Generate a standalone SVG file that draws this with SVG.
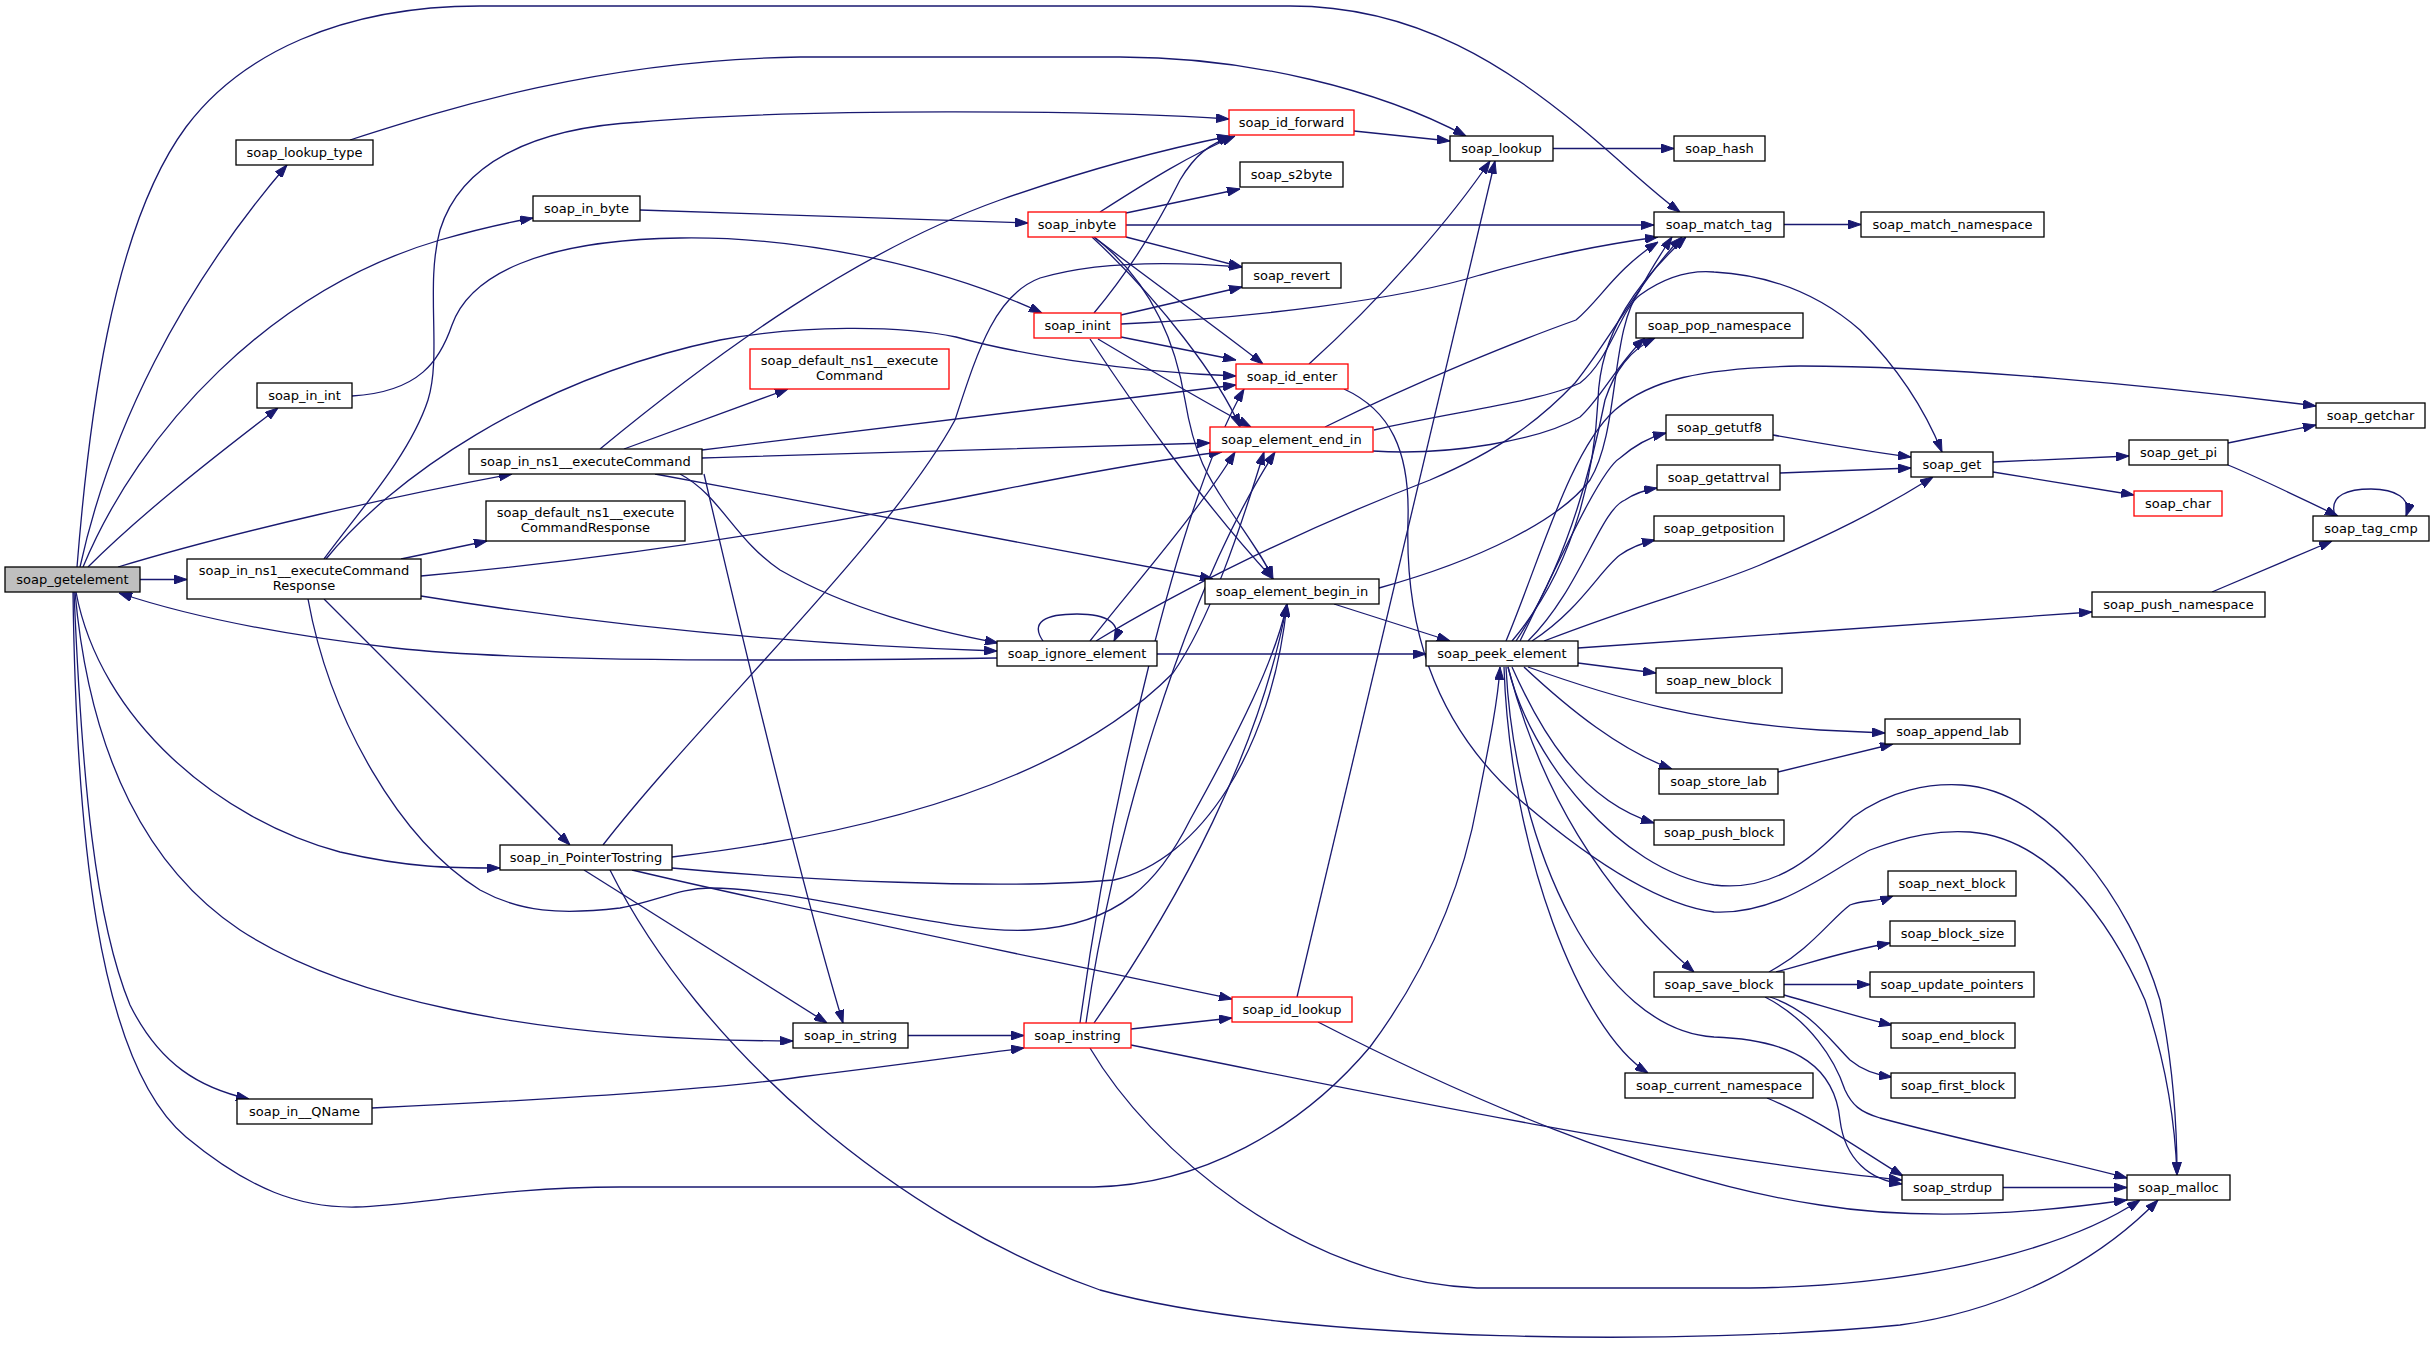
<svg xmlns="http://www.w3.org/2000/svg" width="2435" height="1345" viewBox="0 0 2435 1345">
<defs>
<marker id="a" markerWidth="13" markerHeight="9" refX="13" refY="4.5" orient="auto" markerUnits="userSpaceOnUse"><path d="M0,0 L13,4.5 L0,9 z" fill="#191970" stroke="#191970" stroke-width="1"/></marker>
</defs>
<style>
.e path{fill:none;stroke:#191970;stroke-width:1.3;marker-end:url(#a)}
.n rect{fill:#ffffff;stroke:#000000;stroke-width:1.3}
.r rect{fill:#ffffff;stroke:#ff0000;stroke-width:1.3}
.g rect{fill:#bfbfbf;stroke:#000000;stroke-width:1.3}
text{font-family:"DejaVu Sans","Liberation Sans",sans-serif;font-size:13px;text-anchor:middle;fill:#000000}
</style>
<rect x="0" y="0" width="2435" height="1345" fill="#ffffff"/>
<g id="edges" class="e">
<path d="M77,567 C88,430 110,230 186,127 C240,55 340,6 480,6 L1290,6 C1420,6 1510,70 1580,127 C1620,160 1650,190 1680,212"/>
<path d="M80,567 C110,430 180,290 287,165"/>
<path d="M83,567 C140,430 270,290 440,240 C475,230 505,223 533,218"/>
<path d="M88,567 C140,515 210,460 278,408"/>
<path d="M118,567 C240,530 400,495 512,474"/>
<path d="M140,579.5 L187,579.5"/>
<path d="M997,658 C800,661 520,662 395,648 C300,637 200,620 119,593"/>
<path d="M76,592 C100,720 220,820 340,852 C410,868 450,868 500,868"/>
<path d="M75,592 C90,760 150,870 240,930 C340,995 520,1040 793,1041"/>
<path d="M74,592 C82,780 95,920 130,1005 C160,1065 200,1088 249,1099"/>
<path d="M73,592 C76,820 95,1060 186,1137 C250,1190 300,1208 356,1207 C420,1205 500,1187 620,1187 L1094,1187 C1200,1185 1300,1130 1370,1047 C1420,980 1460,900 1478,800 C1490,740 1498,700 1500,667"/>
<path d="M350,140 C450,108 600,60 800,57 L1120,57 C1250,57 1380,90 1466,136"/>
<path d="M640,210 L1028,223"/>
<path d="M352,396 C420,392 440,360 452,325 C470,275 540,240 680,238 C810,236 950,270 1042,313"/>
<path d="M600,449 C720,350 860,250 1000,200 C1080,172 1160,150 1230,136"/>
<path d="M624,449 L788,389"/>
<path d="M702,450 C900,425 1100,400 1236,385"/>
<path d="M702,458 C900,452 1100,446 1210,443"/>
<path d="M655,474 C850,510 1050,548 1213,579"/>
<path d="M680,474 C720,495 735,540 780,570 C850,610 930,630 998,643"/>
<path d="M704,474 C745,650 800,880 843,1023"/>
<path d="M401,559 L487,541"/>
<path d="M324,559 C360,510 410,455 428,400 C442,355 425,285 440,230 C460,165 530,128 640,122 C800,108 1100,110 1229,119"/>
<path d="M326,559 C390,480 530,380 720,340 C800,325 900,325 956,337 C1010,352 1120,372 1236,376"/>
<path d="M421,576 C600,560 800,530 1000,490 C1100,470 1170,458 1222,452"/>
<path d="M421,596 C600,625 800,645 997,651"/>
<path d="M324,599 L570,845"/>
<path d="M308,599 C330,720 400,840 480,890 C520,912 560,915 620,908 C660,900 680,888 710,888 C800,888 950,935 1030,930 C1120,925 1160,880 1190,820 C1240,730 1275,660 1287,604"/>
<path d="M603,845 C700,720 890,540 955,420 C978,350 995,295 1040,278 C1100,260 1180,262 1242,267"/>
<path d="M672,857 C900,830 1074,773 1173,673 C1210,620 1240,530 1264,452"/>
<path d="M672,868 C800,880 1000,890 1114,880 C1200,860 1272,750 1287,604"/>
<path d="M584,870 L827,1023"/>
<path d="M632,870 C800,910 1050,960 1232,999"/>
<path d="M610,870 C700,1050 900,1220 1100,1290 C1300,1345 1700,1345 1900,1325 C2010,1310 2100,1260 2158,1200"/>
<path d="M908,1035.5 L1024,1035.5"/>
<path d="M372,1108 C500,1102 700,1092 800,1077 C900,1065 970,1055 1024,1048"/>
<path d="M1131,1029 L1232,1018"/>
<path d="M1131,1045 C1400,1100 1700,1160 1902,1180"/>
<path d="M1090,1048 C1150,1150 1300,1280 1477,1288 L1750,1288 C1950,1285 2080,1240 2140,1200"/>
<path d="M1080,1023 C1110,800 1180,500 1244,389"/>
<path d="M1086,1023 C1110,850 1180,600 1275,452"/>
<path d="M1094,1023 C1180,900 1260,750 1287,604"/>
<path d="M1100,212 C1150,180 1190,155 1235,136"/>
<path d="M1126,213 L1240,189"/>
<path d="M1126,225 L1654,225"/>
<path d="M1126,237 L1242,267"/>
<path d="M1094,237 C1150,280 1220,330 1263,364"/>
<path d="M1092,237 C1160,300 1220,380 1240,427"/>
<path d="M1094,237 C1150,280 1175,340 1185,400 C1195,460 1210,480 1230,510 C1250,540 1265,560 1273,579"/>
<path d="M1094,313 C1130,270 1160,220 1180,180 C1195,155 1210,143 1232,137"/>
<path d="M1121,315 L1242,287"/>
<path d="M1121,324 C1250,318 1400,300 1480,275 C1550,255 1600,245 1658,237"/>
<path d="M1121,337 L1236,360"/>
<path d="M1098,339 C1150,370 1210,405 1251,427"/>
<path d="M1090,339 C1130,400 1200,500 1273,579"/>
<path d="M1043,641 C1030,622 1045,614 1077,614 C1108,614 1122,624 1114,641"/>
<path d="M1157,654 L1426,654"/>
<path d="M1090,641 C1130,590 1200,510 1235,452"/>
<path d="M1096,641 C1180,590 1300,530 1430,480 C1500,450 1540,420 1575,383 C1610,340 1640,280 1682,237"/>
<path d="M1354,131 L1450,141"/>
<path d="M1309,364 C1380,300 1450,220 1490,161"/>
<path d="M1344,389 C1390,410 1410,450 1408,520 C1405,620 1430,720 1520,800 C1590,860 1660,905 1714,912 C1780,915 1830,870 1870,850 C1910,835 1940,830 1970,832 C2050,838 2110,920 2145,1000 C2165,1060 2175,1120 2177,1175"/>
<path d="M1297,997 L1495,161"/>
<path d="M1318,1022 C1450,1090 1650,1180 1820,1205 C1900,1218 2000,1218 2127,1200"/>
<path d="M1325,427 C1420,380 1520,340 1576,320 C1600,300 1615,270 1658,242"/>
<path d="M1374,430 C1450,412 1540,402 1580,383 C1610,360 1620,310 1640,295 C1665,277 1690,270 1714,272 C1770,275 1820,295 1860,330 C1900,370 1925,410 1942,452"/>
<path d="M1373,451 C1450,456 1540,440 1580,417 C1600,400 1620,360 1645,338"/>
<path d="M1334,604 L1450,641"/>
<path d="M1379,588 C1480,560 1560,520 1590,480 C1620,430 1610,330 1640,290 C1650,270 1660,255 1672,237"/>
<path d="M1512,641 C1580,560 1595,460 1598,400 C1600,330 1640,280 1686,237"/>
<path d="M1516,641 C1570,560 1595,450 1605,400 C1615,370 1630,350 1655,338"/>
<path d="M1520,641 C1560,560 1600,470 1620,458 C1635,445 1650,437 1666,433"/>
<path d="M1528,641 C1580,590 1600,510 1625,500 C1635,493 1645,490 1657,488"/>
<path d="M1532,641 C1580,610 1600,570 1620,555 C1630,548 1642,543 1655,540"/>
<path d="M1544,641 C1650,600 1700,590 1760,565 C1830,535 1880,510 1933,477"/>
<path d="M1506,641 C1540,560 1570,450 1615,410 C1650,380 1700,368 1800,366 C1950,366 2150,385 2316,406"/>
<path d="M1578,648 L2092,612"/>
<path d="M1578,663 L1656,673"/>
<path d="M1528,667 C1620,700 1700,722 1820,730 C1845,731 1865,732 1885,733"/>
<path d="M1524,667 C1570,710 1620,750 1672,769"/>
<path d="M1512,667 C1540,730 1580,800 1654,823"/>
<path d="M1508,667 C1540,790 1600,890 1694,972"/>
<path d="M1504,667 C1510,850 1580,1030 1648,1073"/>
<path d="M1506,667 C1515,850 1600,1030 1714,1037 C1800,1040 1835,1070 1840,1120 C1845,1160 1870,1180 1902,1184"/>
<path d="M1508,667 C1530,760 1620,870 1714,885 C1780,893 1820,850 1853,817 C1890,790 1930,783 1962,785 C2050,790 2130,900 2160,1000 C2172,1060 2177,1120 2177,1175"/>
<path d="M1553,148.5 L1674,148.5"/>
<path d="M1784,224.5 L1861,224.5"/>
<path d="M1773,435 C1830,445 1870,452 1911,457"/>
<path d="M1780,473 L1911,468"/>
<path d="M1993,462 L2129,456"/>
<path d="M1993,472 L2134,495"/>
<path d="M2228,443 L2316,425"/>
<path d="M2228,465 C2260,478 2300,498 2338,516"/>
<path d="M2335,516 C2328,494 2350,489 2371,489 C2395,489 2412,498 2406,516"/>
<path d="M2212,592 L2332,541"/>
<path d="M1778,772 L1893,744"/>
<path d="M1769,972 C1810,950 1830,920 1850,905 C1862,900 1878,902 1893,896"/>
<path d="M1776,972 C1820,960 1850,950 1890,943"/>
<path d="M1784,984.5 L1870,984.5"/>
<path d="M1784,995 C1820,1005 1860,1018 1892,1025"/>
<path d="M1770,997 C1810,1010 1830,1040 1850,1060 C1862,1070 1876,1075 1892,1077"/>
<path d="M1765,997 C1810,1020 1835,1060 1845,1090 C1852,1105 1860,1112 1880,1118 C1960,1140 2060,1160 2127,1178"/>
<path d="M1767,1098 C1820,1120 1860,1150 1903,1176"/>
<path d="M2003,1187.5 L2127,1187.5"/>
</g>
<g id="soap_getelement" class="g"><rect x="5" y="567" width="135" height="25"/><text x="72.5" y="584">soap_getelement</text></g>
<g id="soap_lookup_type" class="n"><rect x="236" y="140" width="137" height="25"/><text x="304.5" y="157">soap_lookup_type</text></g>
<g id="soap_in_byte" class="n"><rect x="533" y="196" width="107" height="25"/><text x="586.5" y="213">soap_in_byte</text></g>
<g id="soap_in_int" class="n"><rect x="257" y="383" width="95" height="25"/><text x="304.5" y="400">soap_in_int</text></g>
<g id="soap_in_ns1__executeCommand" class="n"><rect x="469" y="449" width="233" height="25"/><text x="585.5" y="466">soap_in_ns1__executeCommand</text></g>
<g id="soap_in_ns1__executeCommandResponse" class="n"><rect x="187" y="559" width="234" height="40"/><text x="304" y="575">soap_in_ns1__executeCommand</text><text x="304" y="590">Response</text></g>
<g id="soap_default_ns1__executeCommandResponse" class="n"><rect x="486" y="501" width="199" height="40"/><text x="585.5" y="517">soap_default_ns1__execute</text><text x="585.5" y="532">CommandResponse</text></g>
<g id="soap_in_PointerTostring" class="n"><rect x="500" y="845" width="172" height="25"/><text x="586" y="862">soap_in_PointerTostring</text></g>
<g id="soap_in_string" class="n"><rect x="793" y="1023" width="115" height="25"/><text x="850.5" y="1040">soap_in_string</text></g>
<g id="soap_in__QName" class="n"><rect x="237" y="1099" width="135" height="25"/><text x="304.5" y="1116">soap_in__QName</text></g>
<g id="soap_default_ns1__executeCommand" class="r"><rect x="750" y="349" width="199" height="40"/><text x="849.5" y="365">soap_default_ns1__execute</text><text x="849.5" y="380">Command</text></g>
<g id="soap_inbyte" class="r"><rect x="1028" y="212" width="98" height="25"/><text x="1077" y="229">soap_inbyte</text></g>
<g id="soap_inint" class="r"><rect x="1034" y="313" width="87" height="25"/><text x="1077.5" y="330">soap_inint</text></g>
<g id="soap_ignore_element" class="n"><rect x="997" y="641" width="160" height="25"/><text x="1077" y="658">soap_ignore_element</text></g>
<g id="soap_instring" class="r"><rect x="1024" y="1023" width="107" height="25"/><text x="1077.5" y="1040">soap_instring</text></g>
<g id="soap_id_forward" class="r"><rect x="1229" y="110" width="125" height="25"/><text x="1291.5" y="127">soap_id_forward</text></g>
<g id="soap_s2byte" class="n"><rect x="1240" y="162" width="103" height="25"/><text x="1291.5" y="179">soap_s2byte</text></g>
<g id="soap_revert" class="n"><rect x="1242" y="263" width="99" height="25"/><text x="1291.5" y="280">soap_revert</text></g>
<g id="soap_id_enter" class="r"><rect x="1236" y="364" width="112" height="25"/><text x="1292" y="381">soap_id_enter</text></g>
<g id="soap_element_end_in" class="r"><rect x="1210" y="427" width="163" height="25"/><text x="1291.5" y="444">soap_element_end_in</text></g>
<g id="soap_element_begin_in" class="n"><rect x="1205" y="579" width="174" height="25"/><text x="1292" y="596">soap_element_begin_in</text></g>
<g id="soap_id_lookup" class="r"><rect x="1232" y="997" width="120" height="25"/><text x="1292" y="1014">soap_id_lookup</text></g>
<g id="soap_lookup" class="n"><rect x="1450" y="136" width="103" height="25"/><text x="1501.5" y="153">soap_lookup</text></g>
<g id="soap_hash" class="n"><rect x="1674" y="136" width="91" height="25"/><text x="1719.5" y="153">soap_hash</text></g>
<g id="soap_match_tag" class="n"><rect x="1654" y="212" width="130" height="25"/><text x="1719" y="229">soap_match_tag</text></g>
<g id="soap_match_namespace" class="n"><rect x="1861" y="212" width="183" height="25"/><text x="1952.5" y="229">soap_match_namespace</text></g>
<g id="soap_pop_namespace" class="n"><rect x="1636" y="313" width="167" height="25"/><text x="1719.5" y="330">soap_pop_namespace</text></g>
<g id="soap_getutf8" class="n"><rect x="1666" y="415" width="107" height="25"/><text x="1719.5" y="432">soap_getutf8</text></g>
<g id="soap_getattrval" class="n"><rect x="1657" y="465" width="123" height="25"/><text x="1718.5" y="482">soap_getattrval</text></g>
<g id="soap_getposition" class="n"><rect x="1654" y="516" width="130" height="25"/><text x="1719" y="533">soap_getposition</text></g>
<g id="soap_peek_element" class="n"><rect x="1426" y="641" width="152" height="25"/><text x="1502" y="658">soap_peek_element</text></g>
<g id="soap_new_block" class="n"><rect x="1656" y="668" width="126" height="25"/><text x="1719" y="685">soap_new_block</text></g>
<g id="soap_store_lab" class="n"><rect x="1659" y="769" width="119" height="25"/><text x="1718.5" y="786">soap_store_lab</text></g>
<g id="soap_push_block" class="n"><rect x="1654" y="820" width="130" height="25"/><text x="1719" y="837">soap_push_block</text></g>
<g id="soap_save_block" class="n"><rect x="1654" y="972" width="130" height="25"/><text x="1719" y="989">soap_save_block</text></g>
<g id="soap_current_namespace" class="n"><rect x="1625" y="1073" width="188" height="25"/><text x="1719" y="1090">soap_current_namespace</text></g>
<g id="soap_get" class="n"><rect x="1911" y="452" width="82" height="25"/><text x="1952" y="469">soap_get</text></g>
<g id="soap_get_pi" class="n"><rect x="2129" y="440" width="99" height="25"/><text x="2178.5" y="457">soap_get_pi</text></g>
<g id="soap_char" class="r"><rect x="2134" y="491" width="88" height="25"/><text x="2178" y="508">soap_char</text></g>
<g id="soap_getchar" class="n"><rect x="2316" y="403" width="109" height="25"/><text x="2370.5" y="420">soap_getchar</text></g>
<g id="soap_tag_cmp" class="n"><rect x="2313" y="516" width="116" height="25"/><text x="2371" y="533">soap_tag_cmp</text></g>
<g id="soap_push_namespace" class="n"><rect x="2092" y="592" width="173" height="25"/><text x="2178.5" y="609">soap_push_namespace</text></g>
<g id="soap_append_lab" class="n"><rect x="1885" y="719" width="135" height="25"/><text x="1952.5" y="736">soap_append_lab</text></g>
<g id="soap_next_block" class="n"><rect x="1888" y="871" width="128" height="25"/><text x="1952" y="888">soap_next_block</text></g>
<g id="soap_block_size" class="n"><rect x="1890" y="921" width="125" height="25"/><text x="1952.5" y="938">soap_block_size</text></g>
<g id="soap_update_pointers" class="n"><rect x="1870" y="972" width="164" height="25"/><text x="1952" y="989">soap_update_pointers</text></g>
<g id="soap_end_block" class="n"><rect x="1891" y="1023" width="124" height="25"/><text x="1953" y="1040">soap_end_block</text></g>
<g id="soap_first_block" class="n"><rect x="1891" y="1073" width="124" height="25"/><text x="1953" y="1090">soap_first_block</text></g>
<g id="soap_strdup" class="n"><rect x="1902" y="1175" width="101" height="25"/><text x="1952.5" y="1192">soap_strdup</text></g>
<g id="soap_malloc" class="n"><rect x="2127" y="1175" width="103" height="25"/><text x="2178.5" y="1192">soap_malloc</text></g>
</svg>
